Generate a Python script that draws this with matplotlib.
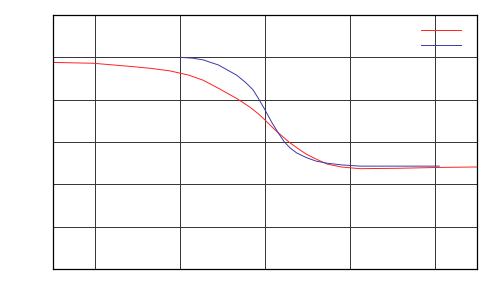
# plot.py
# Two step-like curves on a plain grid, no text labels.

import matplotlib
matplotlib.use("Agg")
import matplotlib.pyplot as plt
from matplotlib.lines import Line2D

# red series
red_x = [0.0, 0.95, 1.89, 2.3, 2.76, 3.2, 3.54, 3.9, 4.33, 4.65, 4.85, 5.0, 5.15,
         5.31, 5.59, 5.8, 5.98, 6.2, 6.46, 6.8, 7.24, 8.18, 9.13, 10.0]
red_y = [4.88, 4.86, 4.78, 4.74, 4.68, 4.58, 4.46, 4.27, 4.03, 3.82, 3.66, 3.52, 3.37,
         3.22, 2.98, 2.83, 2.71, 2.60, 2.48, 2.41, 2.37, 2.38, 2.40, 2.41]

# blue series
blue_x = [3.0, 3.3, 3.54, 3.9, 4.33, 4.55, 4.72, 4.85, 5.0, 5.15, 5.31, 5.45, 5.59,
          5.75, 5.98, 6.2, 6.46, 6.8, 7.24, 8.18, 9.11]
blue_y = [5.0, 4.98, 4.94, 4.82, 4.58, 4.40, 4.23, 4.02, 3.76, 3.48, 3.22, 3.01, 2.86,
          2.74, 2.63, 2.55, 2.50, 2.46, 2.43, 2.43, 2.43]

x_ticks = [1, 3, 5, 7, 9]
y_ticks = [1, 2, 3, 4, 5]

fig = plt.figure(figsize=(5, 3), dpi=100)
ax = fig.add_axes([0.106, 0.1033, 0.848, 0.8467])

ax.plot(red_x, red_y, color="#ff2020", linewidth=0.7)
ax.plot(blue_x, blue_y, color="#3a3aa8", linewidth=0.7)

ax.set_xlim(0, 10)
ax.set_ylim(0, 6)
ax.set_xticks(x_ticks)
ax.set_yticks(y_ticks)
ax.set_xticklabels([])
ax.set_yticklabels([])
ax.tick_params(length=0)
ax.grid(True, color="#333333", linewidth=0.7)
for s in ax.spines.values():
    s.set_linewidth(0.9)
    s.set_color("black")

handles = [Line2D([], [], color="#ff2020", linewidth=0.7),
           Line2D([], [], color="#3a3aa8", linewidth=0.7)]
ax.legend(handles, ["", ""], loc="upper right", frameon=False,
          bbox_to_anchor=(0.981, 0.988),
          handlelength=3.6, handletextpad=0.0, labelspacing=0.45,
          borderaxespad=0.3, fontsize=8)

fig.savefig("out.png", dpi=100)
